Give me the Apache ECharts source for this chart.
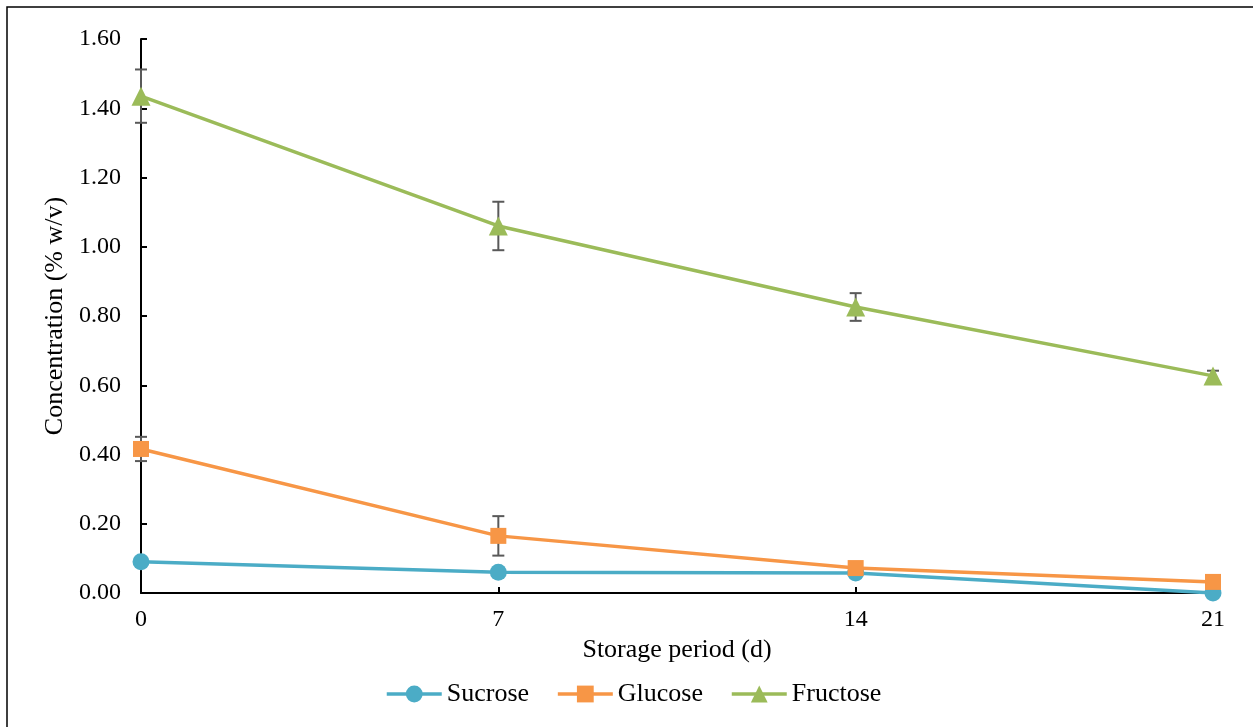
<!DOCTYPE html>
<html><head><meta charset="utf-8">
<script src="https://cdn.jsdelivr.net/npm/echarts@6/dist/echarts.min.js"></script>
<style>html,body{margin:0;padding:0;background:#fff;}#c{width:1253px;height:727px;}</style>
</head><body><div id="c"></div>
<script>
const days = [0, 7, 14, 21];
const seriesNames = ['Sucrose', 'Glucose', 'Fructose'];
const sucrose = [0.090, 0.060, 0.058, 0.000];
const glucose = [0.416, 0.165, 0.072, 0.032];
const fructose = [1.435, 1.060, 0.826, 0.627];
const sucroseErr = [0.000, 0.000, 0.000, 0.000];
const glucoseErr = [0.035, 0.057, 0.000, 0.000];
const fructoseErr = [0.077, 0.070, 0.040, 0.015];
const yTicks = [0, 0.2, 0.4, 0.6, 0.8, 1.0, 1.2, 1.4, 1.6];

const colors = ['#4BACC6', '#F79646', '#9BBB59'];
const values = [sucrose, glucose, fructose];
const errs = [sucroseErr, glucoseErr, fructoseErr];
const symbols = ['circle', 'rect', 'triangle'];
const symbolSizes = [17, 16, 19];
const font = 'Liberation Serif';

const chart = echarts.init(document.getElementById('c'));
const series = [];
values.forEach((vals, i) => {
  series.push({
    type: 'custom',
    name: seriesNames[i] + ' err',
    z: 1,
    silent: true,
    data: days.map((d, k) => [d, vals[k], errs[i][k]]).filter(p => p[2] > 0),
    renderItem: function (params, api) {
      const x = api.value(0), y = api.value(1), e = api.value(2);
      const top = api.coord([x, y + e]);
      const bot = api.coord([x, y - e]);
      const hw = 6;
      const st = {stroke: '#595959', lineWidth: 2};
      return {type: 'group', children: [
        {type: 'line', shape: {x1: top[0], y1: top[1], x2: bot[0], y2: bot[1]}, style: st},
        {type: 'line', shape: {x1: top[0] - hw, y1: top[1], x2: top[0] + hw, y2: top[1]}, style: st},
        {type: 'line', shape: {x1: bot[0] - hw, y1: bot[1], x2: bot[0] + hw, y2: bot[1]}, style: st}
      ]};
    }
  });
});
values.forEach((vals, i) => {
  series.push({
    type: 'line',
    name: seriesNames[i],
    z: 3,
    data: days.map((d, k) => [d, vals[k]]),
    symbol: symbols[i],
    symbolSize: symbolSizes[i],
    showAllSymbol: true,
    lineStyle: {color: colors[i], width: 3.5},
    itemStyle: {color: colors[i]},
    emphasis: {disabled: true}
  });
});

chart.setOption({
  animation: false,
  textStyle: {fontFamily: font},
  graphic: [
    {type: 'rect', shape: {x: 7, y: 7, width: 1260, height: 740}, style: {fill: 'none', stroke: '#000', lineWidth: 1.5}, silent: true}
  ],
  grid: {left: 141, right: 40, top: 39, bottom: 134, containLabel: false},
  legend: {
    data: seriesNames,
    bottom: 15,
    left: 380,
    itemWidth: 55,
    itemHeight: 21,
    itemGap: 27,
    lineStyle: {width: 3.5},
    textStyle: {fontFamily: font, fontSize: 26, color: '#000'}
  },
  xAxis: {
    type: 'value', min: 0, max: 21, interval: 7,
    name: 'Storage period (d)', nameLocation: 'middle', nameGap: 42,
    nameTextStyle: {fontFamily: font, fontSize: 26, color: '#000'},
    axisLine: {lineStyle: {color: '#000', width: 2}},
    axisTick: {show: true, inside: true, length: 6, lineStyle: {color: '#000', width: 2}},
    axisLabel: {fontFamily: font, fontSize: 24, color: '#000', margin: 15},
    splitLine: {show: false}
  },
  yAxis: {
    type: 'value', min: 0, max: 1.6, interval: 0.2,
    name: 'Concentration (% w/v)', nameLocation: 'middle', nameGap: 70,
    nameTextStyle: {fontFamily: font, fontSize: 26, color: '#000'},
    axisLine: {show: true, lineStyle: {color: '#000', width: 2}},
    axisTick: {show: true, inside: true, length: 6, lineStyle: {color: '#000', width: 2}},
    axisLabel: {fontFamily: font, fontSize: 24, color: '#000', margin: 20, formatter: v => v.toFixed(2)},
    splitLine: {show: false}
  },
  series: series
});
</script></body></html>
